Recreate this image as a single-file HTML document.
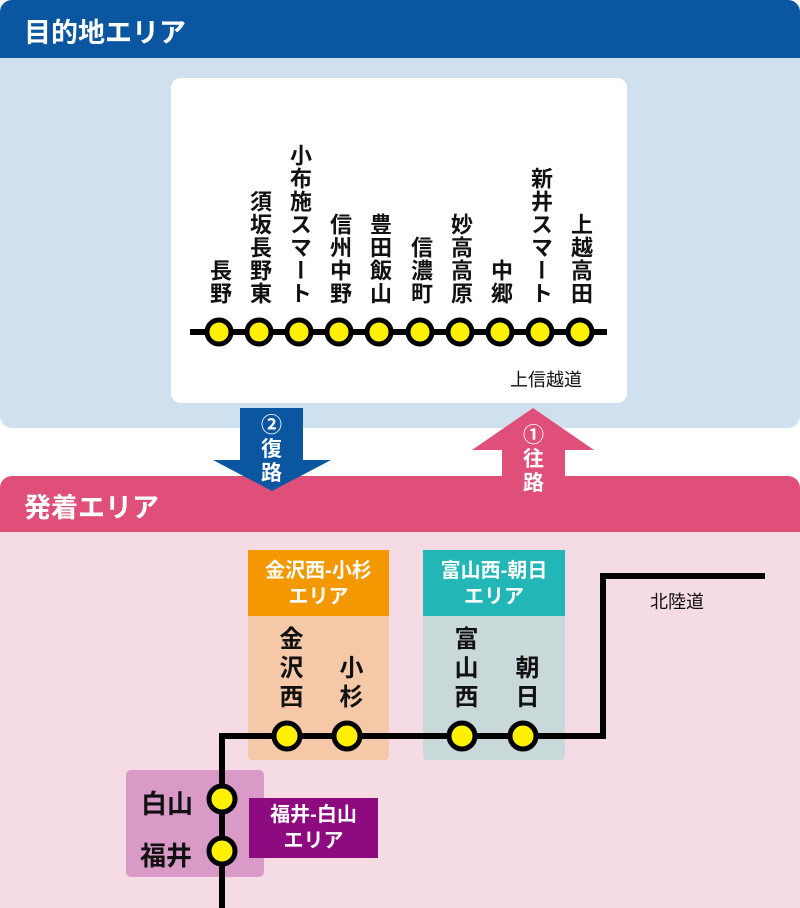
<!DOCTYPE html>
<html><head><meta charset="utf-8"><style>
body{margin:0;width:800px;height:908px;position:relative;overflow:hidden;background:#fff;font-family:"Liberation Sans","Noto Sans CJK JP",sans-serif;}
.a{position:absolute;}
.v{position:absolute;writing-mode:vertical-rl;font-size:22px;font-weight:bold;line-height:22px;letter-spacing:1px;color:#111;}
.h{color:#fff;font-weight:bold;font-size:20px;text-align:center;line-height:26px;}
</style></head><body>
<div class="a" style="left:0;top:0;width:800px;height:428px;background:#cfe0ee;border-radius:12px 12px 12px 12px;"></div>
<div class="a" style="left:0;top:0;width:800px;height:58px;background:#0a56a1;border-radius:12px 12px 0 0;"></div>
<div class="a" style="left:24px;top:11px;color:#fff;font-weight:bold;font-size:27px;">目的地エリア</div>
<div class="a" style="left:171px;top:78px;width:456px;height:325px;background:#fff;border-radius:10px;"></div>
<div class="a" style="left:0;top:476px;width:800px;height:432px;background:#f5dbe3;border-radius:12px 12px 0 0;"></div>
<div class="a" style="left:0;top:476px;width:800px;height:56px;background:#df4f79;border-radius:12px 12px 0 0;"></div>
<div class="a" style="left:24px;top:486px;color:#fff;font-weight:bold;font-size:27px;">発着エリア</div>
<svg class="a" style="left:0;top:0" width="800" height="908">
<polygon points="240,408 303,408 303,460 331,460 272,491 213,460 240,460" fill="#0a56a1"/>
<polygon points="533,408 594,450 565,450 565,500 502,500 502,450 472,450" fill="#df4f79"/>
<line x1="190" y1="332" x2="607" y2="332" stroke="#000" stroke-width="6"/>
<g fill="#fff100" stroke="#000" stroke-width="5">
<circle cx="219" cy="332" r="12"/><circle cx="259" cy="332" r="12"/><circle cx="299" cy="332" r="12"/><circle cx="339" cy="332" r="12"/><circle cx="379" cy="332" r="12"/><circle cx="420" cy="332" r="12"/><circle cx="460" cy="332" r="12"/><circle cx="500" cy="332" r="12"/><circle cx="540" cy="332" r="12"/><circle cx="580" cy="332" r="12"/>
</g>
<rect x="248" y="550" width="141" height="210" rx="4" fill="#f5c8a8"/>
<rect x="248" y="550" width="141" height="66" fill="#f39800"/>
<rect x="423" y="550" width="142" height="210" rx="4" fill="#c9d9d9"/>
<rect x="423" y="550" width="142" height="66" fill="#22b7b6"/>
<rect x="126" y="770" width="138" height="107" rx="5" fill="#d99ac8"/>
<rect x="249" y="798" width="129" height="60" fill="#8e0a80"/>
<polyline points="222,908 222,736 603,736 603,576 765,576" fill="none" stroke="#000" stroke-width="6"/>
<g fill="#fff100" stroke="#000" stroke-width="5">
<circle cx="287" cy="736" r="13"/><circle cx="347" cy="736" r="13"/><circle cx="462" cy="736" r="13"/><circle cx="523" cy="736" r="13"/><circle cx="222" cy="799" r="13"/><circle cx="222" cy="851" r="13"/>
</g>
</svg>
<div class="v" style="left:208px;bottom:603px;">長野</div>
<div class="v" style="left:248px;bottom:603px;">須坂長野東</div>
<div class="v" style="left:288px;bottom:603px;">小布施スマート</div>
<div class="v" style="left:328px;bottom:603px;">信州中野</div>
<div class="v" style="left:368px;bottom:603px;">豊田飯山</div>
<div class="v" style="left:409px;bottom:603px;">信濃町</div>
<div class="v" style="left:449px;bottom:603px;">妙高高原</div>
<div class="v" style="left:489px;bottom:603px;">中郷</div>
<div class="v" style="left:529px;bottom:603px;">新井スマート</div>
<div class="v" style="left:569px;bottom:603px;">上越高田</div>
<div class="a" style="left:510px;top:366px;font-size:18px;color:#111;">上信越道</div>
<div class="a h" style="left:240px;top:414px;width:63px;font-size:21px;line-height:24px;">②<br>復<br>路</div>
<div class="a h" style="left:502px;top:424px;width:63px;font-size:21px;line-height:24px;">①<br>往<br>路</div>
<div class="a h" style="left:248px;top:558px;width:141px;">金沢西-小杉<br>エリア</div>
<div class="a h" style="left:423px;top:558px;width:142px;">富山西-朝日<br>エリア</div>
<div class="a h" style="left:249px;top:802px;width:129px;">福井-白山<br>エリア</div>
<div class="v" style="left:276px;bottom:195px;font-size:24px;line-height:24px;letter-spacing:5px;">金沢西</div>
<div class="v" style="left:336px;bottom:195px;font-size:24px;line-height:24px;letter-spacing:5px;">小杉</div>
<div class="v" style="left:451px;bottom:195px;font-size:24px;line-height:24px;letter-spacing:5px;">富山西</div>
<div class="v" style="left:512px;bottom:195px;font-size:24px;line-height:24px;letter-spacing:5px;">朝日</div>
<div class="a" style="left:141px;top:784px;font-size:26px;font-weight:bold;color:#111;">白山</div>
<div class="a" style="left:140px;top:836px;font-size:26px;font-weight:bold;color:#111;">福井</div>
<div class="a" style="left:650px;top:588px;font-size:18px;color:#111;">北陸道</div>
</body></html>
